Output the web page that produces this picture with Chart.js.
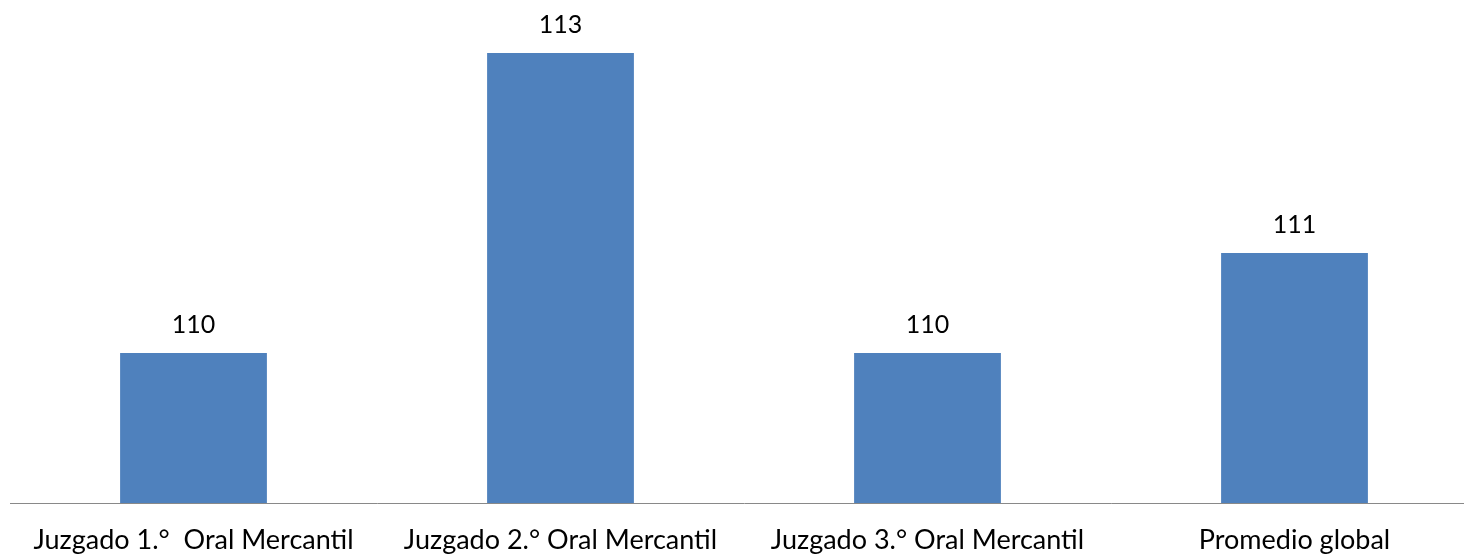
<!DOCTYPE html>
<html>
<head>
<meta charset="utf-8">
<script src="https://cdn.jsdelivr.net/npm/chart.js@4"></script>
<style>
html,body{margin:0;padding:0;background:#fff;overflow:hidden;}
#wrap{width:1478px;height:554px;}
</style>
</head>
<body>
<div id="wrap"><canvas id="c"></canvas></div>
<script>
const categories = ["Juzgado 1.°  Oral Mercantil", "Juzgado 2.° Oral Mercantil", "Juzgado 3.° Oral Mercantil", "Promedio global"];
const values = [110, 113, 110, 111];
const valueLabels = ["110", "113", "110", "111"];

const labelPlugin = {
  id: 'valueLabels',
  afterDatasetsDraw(chart) {
    const ctx = chart.ctx;
    const meta = chart.getDatasetMeta(0);
    ctx.save();
    ctx.font = '25px Lato, "Open Sans", sans-serif';
    ctx.fillStyle = '#000';
    ctx.textAlign = 'center';
    ctx.textBaseline = 'alphabetic';
    meta.data.forEach((bar, i) => {
      ctx.fillText(valueLabels[i], bar.x, bar.y - 20);
    });
    ctx.restore();
  }
};

new Chart(document.getElementById('c'), {
  type: 'bar',
  data: {
    labels: categories,
    datasets: [{
      data: values,
      backgroundColor: '#4F81BD',
      categoryPercentage: 1,
      barPercentage: 0.4
    }]
  },
  options: {
    responsive: true,
    maintainAspectRatio: false,
    animation: false,
    layout: { padding: { left: 10, right: 0, top: 3, bottom: 0 } },
    plugins: { legend: { display: false }, tooltip: { enabled: false } },
    scales: {
      y: { display: false, min: 108.5, max: 113.5 },
      x: {
        afterFit(scale) { scale.height = 51; },
        grid: { display: false, drawTicks: false },
        border: { display: true, color: '#898989', width: 1 },
        ticks: { color: '#000', padding: 21, maxRotation: 0, autoSkip: false,
          font: { family: 'Lato, "Open Sans", sans-serif', size: 27 } }
      }
    }
  },
  plugins: [labelPlugin]
});
</script>
</body>
</html>
